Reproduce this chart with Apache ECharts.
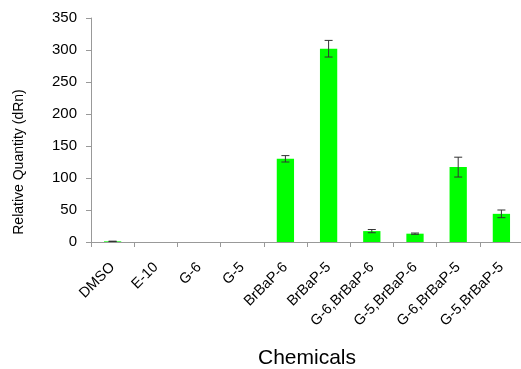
<!DOCTYPE html>
<html><head><meta charset="utf-8">
<script src="https://cdn.jsdelivr.net/npm/echarts@6/dist/echarts.min.js"></script>
<style>html,body{margin:0;padding:0;background:#fff}#c{width:521px;height:369px}</style>
</head><body><div id="c"></div>
<script>
const categories = ['DMSO','E-10','G-6','G-5','BrBaP-6','BrBaP-5','G-6,BrBaP-6','G-5,BrBaP-6','G-6,BrBaP-5','G-5,BrBaP-5'];
const values = [1, 0, 0, 0, 130, 302, 17, 13, 117, 44];
const errors = [0.3, 0, 0, 0, 5, 13, 2.5, 1, 15.5, 6];
const yTicks = [0, 50, 100, 150, 200, 250, 300, 350];
const yTitle = 'Relative Quantity (dRn)';

const chart = echarts.init(document.getElementById('c'), null, {renderer:'canvas'});
const font = 'Liberation Sans, Arial, sans-serif';
chart.setOption({
  animation: false,
  grid: {left: 91, top: 18, width: 432, height: 224, containLabel: false, outerBoundsMode: 'none'},
  graphic: [{
    type: 'text', x: 19, y: 162, rotation: Math.PI / 2,
    style: {text: yTitle, fontFamily: font, fontSize: 14, fill: '#000', align: 'center', verticalAlign: 'middle'}
  }],
  xAxis: {
    type: 'category', data: categories,
    name: 'Chemicals', nameLocation: 'middle', nameGap: 106,
    nameTextStyle: {fontFamily: font, fontSize: 21, color: '#000'},
    axisLine: {lineStyle: {color: '#999', width: 1}},
    axisTick: {show: true, length: 5, alignWithLabel: false, lineStyle: {color: '#999'}},
    axisLabel: {rotate: 45, fontFamily: font, fontSize: 14.5, color: '#000', margin: 23, interval: 0}
  },
  yAxis: {
    type: 'value', min: yTicks[0], max: yTicks[yTicks.length-1], interval: 50,
    axisLine: {show: true, lineStyle: {color: '#999', width: 1}},
    axisTick: {show: true, length: 5, lineStyle: {color: '#999'}},
    splitLine: {show: false},
    axisLabel: {fontFamily: font, fontSize: 15, color: '#000', margin: 14}
  },
  series: [{
    type: 'bar', data: values, barWidth: '40%',
    itemStyle: {color: '#00ff00'}
  }, {
    type: 'custom',
    data: values.map((v, i) => [i, v - errors[i], v + errors[i], errors[i]]),
    renderItem: function (params, api) {
      if (api.value(3) === 0) return null;
      const x = api.value(0);
      const lo = api.coord([x, api.value(1)]);
      const hi = api.coord([x, api.value(2)]);
      const w = 4;
      const st = {stroke: '#333', lineWidth: 1};
      return {type: 'group', children: [
        {type: 'line', shape: {x1: lo[0], y1: lo[1], x2: hi[0], y2: hi[1]}, style: st},
        {type: 'line', shape: {x1: lo[0]-w, y1: lo[1], x2: lo[0]+w, y2: lo[1]}, style: st},
        {type: 'line', shape: {x1: hi[0]-w, y1: hi[1], x2: hi[0]+w, y2: hi[1]}, style: st}
      ]};
    },
    z: 5
  }]
});
</script></body></html>
